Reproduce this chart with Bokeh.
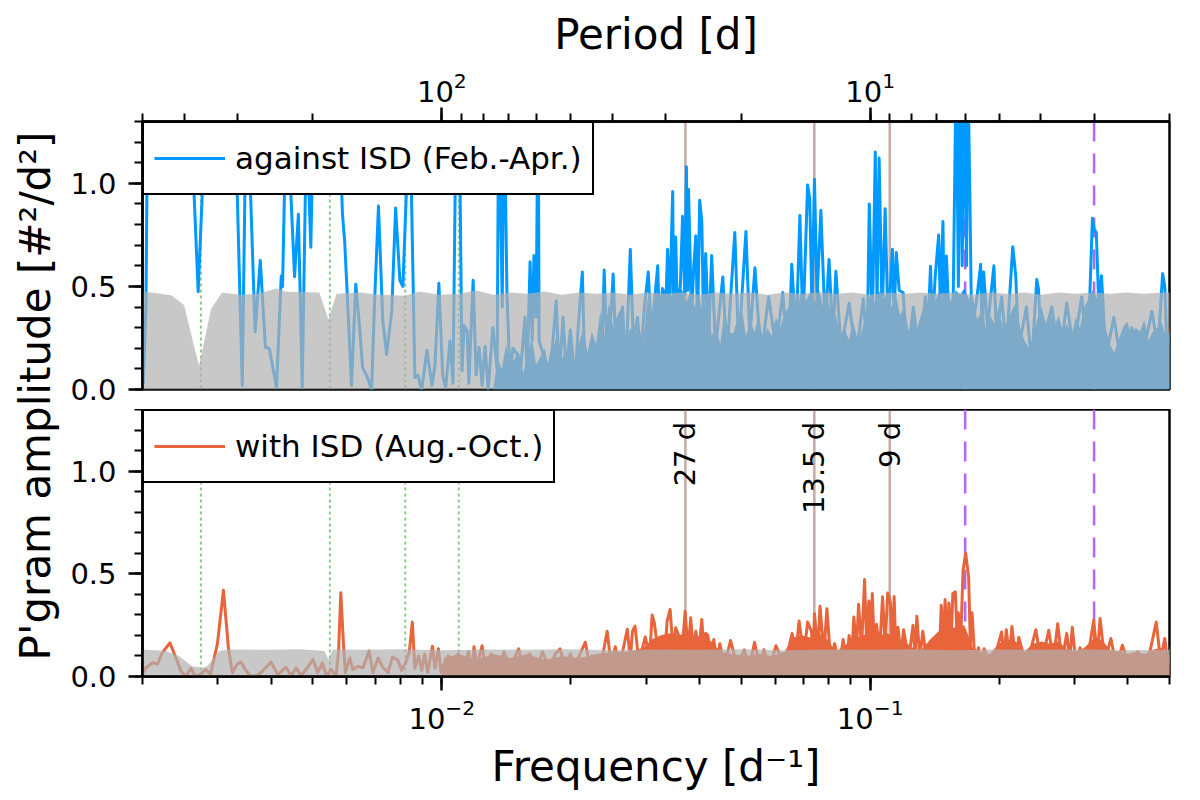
import numpy as np
from bokeh.plotting import figure
from bokeh.layouts import row, column
from bokeh.models import (ColumnDataSource, Range1d, LogScale, LogAxis, LogTicker,
                          LogTickFormatter, SingleIntervalTicker, PrintfTickFormatter,
                          Label, Span)
from bokeh.core.properties import value
from bokeh.embed import file_html
from bokeh.resources import INLINE

FONT = "DejaVu Sans"

# ---- data (frequencies stored as log10 [1/d]) ----
# top panel: against ISD (Feb.-Apr.)
blue_logf = [-2.700, -2.697, -2.691, -2.686, -2.630, -2.590, -2.579, -2.569, -2.559, -2.540,
             -2.500, -2.478, -2.466, -2.457, -2.447, -2.436, -2.424, -2.412, -2.403, -2.386,
             -2.375, -2.372, -2.363, -2.353, -2.344, -2.335, -2.326, -2.316, -2.306, -2.300,
             -2.270, -2.240, -2.234, -2.232, -2.227, -2.222, -2.211, -2.201, -2.192, -2.185,
             -2.176, -2.164, -2.157, -2.148, -2.138, -2.129, -2.117, -2.108, -2.098, -2.091,
             -2.075, -2.063, -2.056, -2.047, -2.035, -2.023, -2.016, -2.007, -1.998, -1.991,
             -1.981, -1.974, -1.966, -1.960, -1.953, -1.948, -1.941, -1.937, -1.927, -1.920,
             -1.913, -1.906, -1.899, -1.892, -1.881, -1.871, -1.867, -1.859, -1.855, -1.848,
             -1.841, -1.834, -1.824, -1.817, -1.806, -1.801, -1.794, -1.789, -1.785, -1.780,
             -1.775, -1.773, -1.763, -1.754, -1.742, -1.733, -1.726, -1.717, -1.710, -1.700,
             -1.689, -1.681, -1.672, -1.667, -1.660, -1.646, -1.635, -1.625, -1.621, -1.614,
             -1.607, -1.600, -1.593, -1.578, -1.571, -1.560, -1.553, -1.543, -1.536, -1.527,
             -1.518, -1.511, -1.506, -1.496, -1.492, -1.485, -1.480, -1.473, -1.468, -1.461,
             -1.459, -1.454, -1.450, -1.443, -1.438, -1.433, -1.429, -1.426, -1.424, -1.417,
             -1.412, -1.407, -1.403, -1.398, -1.393, -1.389, -1.384, -1.377, -1.370, -1.361,
             -1.344, -1.335, -1.316, -1.307, -1.290, -1.281, -1.269, -1.255, -1.237, -1.220,
             -1.204, -1.192, -1.183, -1.173, -1.164, -1.157, -1.146, -1.141, -1.136, -1.130,
             -1.124, -1.115, -1.105, -1.096, -1.087, -1.080, -1.068, -1.049, -1.033, -1.016,
             -1.007, -1.002, -0.995, -0.988, -0.984, -0.979, -0.972, -0.965, -0.958, -0.948,
             -0.944, -0.939, -0.932, -0.923, -0.913, -0.899, -0.885, -0.871, -0.867, -0.859,
             -0.855, -0.848, -0.840, -0.836, -0.830, -0.827, -0.822, -0.815, -0.806, -0.799,
             -0.794, -0.789, -0.785, -0.780, -0.775, -0.772, -0.768, -0.763, -0.752, -0.742,
             -0.738, -0.735, -0.726, -0.711, -0.705, -0.693, -0.682, -0.667, -0.660, -0.653,
             -0.635, -0.623, -0.611, -0.607, -0.600, -0.576, -0.557, -0.541, -0.525, -0.506,
             -0.492, -0.481, -0.477, -0.472, -0.466, -0.460, -0.457, -0.450, -0.431, -0.412,
             -0.389, -0.365, -0.342, -0.328, -0.317, -0.312, -0.307, -0.297]
blue_amp = [0.38, 0.03, 0.40, 1.60, 1.80, 1.50, 0.97, 0.474, 0.97, 1.70,
            1.60, 0.97, 0.02, 1.40, 0.97, 0.28, 0.626, 0.204, 0.20, 0.01,
            0.55, 0.50, 1.40, 0.97, 0.547, 0.85, 0.01, 1.30, 0.69, 1.30,
            1.70, 1.40, 0.97, 0.85, 0.72, 0.51, 0.02, 0.51, 0.30, 0.106,
            0.07, 0.00, 0.43, 0.89, 0.335, 0.17, 0.38, 0.88, 0.53, 0.50,
            1.40, 0.057, 0.07, 0.00, 0.19, 0.02, 0.12, 0.515, 0.07, 0.01,
            0.237, 0.03, 1.50, 1.50, 0.09, 0.31, 0.286, 0.03, 0.53, 0.07,
            0.204, 0.02, 0.21, 0.00, 0.30, 0.10, 1.50, 0.40, 1.50, 0.465,
            0.07, 0.20, 0.17, 0.07, 0.35, 0.07, 0.62, 0.237, 0.65, 0.35,
            1.50, 0.237, 0.17, 0.07, 0.20, 0.43, 0.07, 0.35, 0.09, 0.29,
            0.04, 0.32, 0.57, 0.155, 0.04, 0.20, 0.07, 0.285, 0.58, 0.14,
            0.30, 0.56, 0.14, 0.40, 0.07, 0.68, 0.237, 0.35, 0.14, 0.40,
            0.57, 0.27, 0.37, 0.60, 0.29, 0.49, 0.20, 0.68, 0.40, 0.96,
            0.37, 0.74, 0.35, 0.51, 0.84, 0.46, 1.08, 0.48, 0.97, 0.35,
            0.59, 0.746, 0.30, 0.918, 0.815, 0.30, 0.66, 0.25, 0.65, 0.20,
            0.546, 0.15, 0.762, 0.20, 0.767, 0.25, 0.59, 0.15, 0.45, 0.20,
            0.47, 0.10, 0.607, 0.25, 0.844, 0.30, 0.992, 0.926, 0.40, 1.02,
            0.45, 0.869, 0.30, 0.631, 0.25, 0.574, 0.20, 0.42, 0.15, 0.44,
            0.20, 0.90, 0.30, 1.152, 0.40, 1.123, 0.35, 0.877, 0.30, 0.68,
            0.35, 0.664, 0.48, 0.47, 0.15, 0.40, 0.15, 0.45, 0.20, 0.598,
            0.30, 0.55, 0.749, 0.40, 0.815, 0.35, 0.648, 0.30, 0.45, 1.60,
            0.50, 1.60, 0.60, 1.60, 0.60, 1.60, 1.057, 0.30, 0.42, 0.607,
            0.20, 0.57, 0.30, 0.60, 0.25, 0.45, 0.20, 0.693, 0.55, 0.20,
            0.40, 0.12, 0.533, 0.49, 0.20, 0.40, 0.15, 0.42, 0.20, 0.45,
            0.15, 0.831, 0.779, 0.762, 0.40, 0.552, 0.45, 0.15, 0.35, 0.10,
            0.30, 0.15, 0.38, 0.20, 0.562, 0.50, 0.20, 0.295]

# dense periodogram floor (envelope of the unresolved oscillations)
blue_band_logf = [-1.88, -1.87, -1.86, -1.85, -1.84, -1.82, -1.81, -1.79, -1.78, -1.76,
                  -1.75, -1.73, -1.72, -1.70, -1.69, -1.67, -1.66, -1.65, -1.64, -1.63,
                  -1.62, -1.61, -1.60, -1.59, -1.58, -1.57, -1.56, -1.55, -1.54, -1.53,
                  -1.52, -1.51, -1.50, -1.49, -1.48, -1.47, -1.46, -1.45, -1.44, -1.43,
                  -1.42, -1.41, -1.40, -1.39, -1.38, -1.37, -1.36, -1.35, -1.34, -1.33,
                  -1.32, -1.31, -1.30, -1.29, -1.28, -1.27, -1.26, -1.25, -1.24, -1.23,
                  -1.22, -1.21, -1.20, -1.19, -1.18, -1.17, -1.16, -1.15, -1.14, -1.13,
                  -1.12, -1.11, -1.10, -1.09, -1.08, -1.07, -1.06, -1.05, -1.04, -1.03,
                  -1.02, -1.01, -1.00, -0.99, -0.98, -0.97, -0.96, -0.95, -0.94, -0.93,
                  -0.92, -0.91, -0.90, -0.89, -0.88, -0.87, -0.86, -0.85, -0.84, -0.83,
                  -0.82, -0.81, -0.80, -0.79, -0.78, -0.77, -0.76, -0.75, -0.74, -0.73,
                  -0.72, -0.71, -0.70, -0.69, -0.68, -0.67, -0.66, -0.65, -0.64, -0.63,
                  -0.62, -0.61, -0.60, -0.59, -0.58, -0.57, -0.56, -0.55, -0.54, -0.53,
                  -0.52, -0.51, -0.50, -0.49, -0.48, -0.47, -0.46, -0.45, -0.44, -0.43,
                  -0.42, -0.41, -0.40, -0.39, -0.38, -0.37, -0.36, -0.35, -0.34, -0.33,
                  -0.32, -0.31, -0.297]
blue_band_amp = [0.00, 0.15, 0.10, 0.22, 0.12, 0.18, 0.08, 0.25, 0.12, 0.20,
                 0.10, 0.28, 0.15, 0.22, 0.14, 0.30, 0.18, 0.28, 0.22, 0.38,
                 0.26, 0.42, 0.30, 0.36, 0.40, 0.24, 0.30, 0.26, 0.30, 0.22,
                 0.44, 0.36, 0.47, 0.40, 0.49, 0.42, 0.47, 0.44, 0.49, 0.42,
                 0.47, 0.40, 0.46, 0.36, 0.44, 0.26, 0.30, 0.22, 0.38, 0.28,
                 0.27, 0.34, 0.40, 0.26, 0.33, 0.28, 0.36, 0.24, 0.30, 0.26,
                 0.35, 0.30, 0.37, 0.40, 0.46, 0.40, 0.48, 0.43, 0.47, 0.42,
                 0.49, 0.40, 0.46, 0.34, 0.36, 0.26, 0.30, 0.24, 0.33, 0.25,
                 0.28, 0.36, 0.46, 0.42, 0.48, 0.43, 0.47, 0.40, 0.46, 0.36,
                 0.40, 0.28, 0.34, 0.30, 0.37, 0.40, 0.46, 0.42, 0.47, 0.44,
                 0.46, 0.42, 0.48, 0.46, 0.49, 0.44, 0.45, 0.34, 0.38, 0.30,
                 0.36, 0.32, 0.40, 0.30, 0.33, 0.38, 0.42, 0.30, 0.24, 0.20,
                 0.25, 0.34, 0.40, 0.32, 0.38, 0.30, 0.36, 0.28, 0.32, 0.26,
                 0.35, 0.30, 0.40, 0.44, 0.48, 0.44, 0.46, 0.30, 0.22, 0.18,
                 0.24, 0.30, 0.33, 0.26, 0.30, 0.28, 0.34, 0.24, 0.28, 0.30,
                 0.33, 0.26, 0.28]

# significance level (grey)
top_thr_logf = [-2.700, -2.632, -2.602, -2.567, -2.539, -2.513, -2.473, -2.430, -2.386, -2.363,
                -2.286, -2.265, -2.246, -2.192, -2.145, -2.087, -2.052, -2.005, -1.96, -1.92,
                -1.88, -1.84, -1.80, -1.76, -1.72, -1.68, -1.64, -1.60, -1.56, -1.52,
                -1.48, -1.44, -1.40, -1.36, -1.32, -1.28, -1.24, -1.20, -1.16, -1.12,
                -1.08, -1.04, -1.00, -0.96, -0.92, -0.88, -0.84, -0.80, -0.76, -0.72,
                -0.68, -0.64, -0.60, -0.56, -0.52, -0.48, -0.44, -0.40, -0.36, -0.32,
                -0.297]
top_thr_amp = [0.477, 0.457, 0.41, 0.114, 0.39, 0.47, 0.46, 0.465, 0.49, 0.474,
               0.47, 0.34, 0.465, 0.47, 0.46, 0.455, 0.475, 0.46, 0.465, 0.48,
               0.46, 0.47, 0.465, 0.475, 0.46, 0.47, 0.465, 0.47, 0.46, 0.47,
               0.465, 0.47, 0.46, 0.47, 0.465, 0.47, 0.46, 0.47, 0.465, 0.47,
               0.465, 0.47, 0.46, 0.47, 0.465, 0.47, 0.465, 0.47, 0.46, 0.47,
               0.465, 0.47, 0.46, 0.47, 0.465, 0.47, 0.465, 0.47, 0.465, 0.47,
               0.47]

# bottom panel: with ISD (Aug.-Oct.)
orange_logf = [-2.700, -2.692, -2.676, -2.664, -2.653, -2.635, -2.621, -2.609, -2.598, -2.586,
               -2.575, -2.567, -2.551, -2.540, -2.524, -2.510, -2.498, -2.489, -2.478, -2.469,
               -2.459, -2.446, -2.430, -2.415, -2.399, -2.383, -2.364, -2.352, -2.340, -2.329,
               -2.317, -2.301, -2.290, -2.279, -2.270, -2.258, -2.247, -2.241, -2.236, -2.229,
               -2.225, -2.215, -2.208, -2.196, -2.184, -2.170, -2.161, -2.149, -2.138, -2.126,
               -2.115, -2.103, -2.094, -2.084, -2.076, -2.069, -2.063, -2.054, -2.047, -2.040,
               -2.033, -2.022, -2.016, -2.008, -2.002, -1.995, -1.985, -1.975, -1.962, -1.950,
               -1.938, -1.930, -1.925, -1.918, -1.906, -1.899, -1.885, -1.870, -1.855, -1.840,
               -1.821, -1.810, -1.795, -1.780, -1.765, -1.750, -1.735, -1.724, -1.712, -1.700,
               -1.690, -1.665, -1.655, -1.640, -1.630, -1.614, -1.605, -1.595, -1.585, -1.567,
               -1.560, -1.555, -1.549, -1.540, -1.525, -1.515, -1.509, -1.504, -1.495, -1.487,
               -1.480, -1.474, -1.467, -1.460, -1.454, -1.447, -1.440, -1.432, -1.425, -1.419,
               -1.412, -1.407, -1.400, -1.393, -1.388, -1.384, -1.379, -1.372, -1.365, -1.358,
               -1.351, -1.340, -1.326, -1.310, -1.294, -1.282, -1.270, -1.258, -1.248, -1.235,
               -1.220, -1.200, -1.182, -1.175, -1.166, -1.155, -1.146, -1.137, -1.133, -1.130,
               -1.122, -1.117, -1.108, -1.101, -1.092, -1.083, -1.072, -1.063, -1.055, -1.049,
               -1.043, -1.038, -1.032, -1.027, -1.020, -1.013, -1.008, -1.003, -0.999, -0.995,
               -0.990, -0.985, -0.978, -0.971, -0.965, -0.959, -0.953, -0.948, -0.944, -0.940,
               -0.935, -0.928, -0.922, -0.910, -0.900, -0.895, -0.891, -0.884, -0.877, -0.867,
               -0.857, -0.850, -0.843, -0.838, -0.834, -0.829, -0.825, -0.820, -0.816, -0.811,
               -0.807, -0.801, -0.797, -0.794, -0.789, -0.783, -0.777, -0.770, -0.766, -0.762,
               -0.755, -0.747, -0.740, -0.734, -0.715, -0.693, -0.688, -0.682, -0.675, -0.669,
               -0.660, -0.653, -0.635, -0.613, -0.600, -0.583, -0.572, -0.562, -0.552, -0.541,
               -0.534, -0.528, -0.519, -0.510, -0.495, -0.478, -0.470, -0.463, -0.452, -0.438,
               -0.425, -0.411, -0.395, -0.375, -0.355, -0.332, -0.322, -0.312, -0.305, -0.297]
orange_amp = [0.01, 0.04, 0.067, 0.06, 0.115, 0.164, 0.09, 0.026, 0.00, 0.04,
              0.00, 0.005, 0.034, 0.01, 0.16, 0.42, 0.13, 0.018, 0.06, 0.07,
              0.034, 0.00, 0.005, 0.034, 0.07, 0.01, 0.045, 0.005, 0.042, 0.003,
              0.034, 0.083, 0.018, 0.067, 0.005, 0.034, 0.00, 0.13, 0.408, 0.13,
              0.018, 0.09, 0.034, 0.05, 0.042, 0.124, 0.018, 0.09, 0.045, 0.02,
              0.095, 0.08, 0.03, 0.07, 0.12, 0.265, 0.04, 0.10, 0.03, 0.11,
              0.02, 0.147, 0.04, 0.135, 0.02, 0.06, 0.10, 0.03, 0.11, 0.04,
              0.12, 0.03, 0.145, 0.05, 0.15, 0.04, 0.11, 0.03, 0.12, 0.04,
              0.135, 0.05, 0.11, 0.03, 0.12, 0.04, 0.11, 0.135, 0.04, 0.11,
              0.05, 0.167, 0.05, 0.10, 0.04, 0.22, 0.06, 0.145, 0.05, 0.23,
              0.08, 0.22, 0.245, 0.07, 0.193, 0.09, 0.30, 0.262, 0.12, 0.19,
              0.10, 0.27, 0.327, 0.12, 0.237, 0.20, 0.10, 0.318, 0.12, 0.286,
              0.10, 0.22, 0.12, 0.278, 0.10, 0.21, 0.20, 0.08, 0.18, 0.06,
              0.16, 0.05, 0.175, 0.05, 0.13, 0.04, 0.167, 0.05, 0.13, 0.04,
              0.15, 0.05, 0.21, 0.08, 0.27, 0.10, 0.265, 0.22, 0.10, 0.306,
              0.12, 0.342, 0.11, 0.33, 0.07, 0.16, 0.05, 0.18, 0.07, 0.20,
              0.10, 0.29, 0.12, 0.352, 0.14, 0.472, 0.15, 0.368, 0.15, 0.404,
              0.12, 0.254, 0.12, 0.388, 0.15, 0.407, 0.363, 0.15, 0.39, 0.12,
              0.24, 0.10, 0.228, 0.08, 0.249, 0.10, 0.293, 0.09, 0.22, 0.06,
              0.14, 0.06, 0.19, 0.12, 0.347, 0.15, 0.375, 0.15, 0.358, 0.15,
              0.404, 0.412, 0.18, 0.31, 0.15, 0.518, 0.60, 0.485, 0.15, 0.31,
              0.06, 0.14, 0.04, 0.135, 0.05, 0.217, 0.08, 0.228, 0.09, 0.244,
              0.08, 0.19, 0.05, 0.228, 0.06, 0.225, 0.08, 0.257, 0.07, 0.21,
              0.08, 0.24, 0.05, 0.14, 0.05, 0.274, 0.10, 0.282, 0.07, 0.185,
              0.05, 0.152, 0.05, 0.12, 0.04, 0.265, 0.08, 0.185, 0.06, 0.15]

orange_band_logf = [-2.00, -1.995, -1.96, -1.92, -1.88, -1.84, -1.80, -1.76, -1.72, -1.68,
                    -1.64, -1.60, -1.56, -1.53, -1.51, -1.49, -1.47, -1.45, -1.43, -1.41,
                    -1.39, -1.37, -1.35, -1.32, -1.29, -1.26, -1.23, -1.20, -1.18, -1.16,
                    -1.14, -1.12, -1.10, -1.08, -1.06, -1.04, -1.02, -1.00, -0.98, -0.96,
                    -0.94, -0.92, -0.90, -0.88, -0.86, -0.84, -0.82, -0.80, -0.78, -0.76,
                    -0.74, -0.72, -0.70, -0.68, -0.66, -0.64, -0.62, -0.60, -0.58, -0.56,
                    -0.54, -0.52, -0.50, -0.48, -0.46, -0.44, -0.42, -0.40, -0.38, -0.36,
                    -0.34, -0.32, -0.297]
orange_band_amp = [0.0, 0.09, 0.11, 0.08, 0.11, 0.09, 0.11, 0.08, 0.10, 0.09,
                   0.11, 0.12, 0.12, 0.14, 0.18, 0.20, 0.21, 0.20, 0.21, 0.20,
                   0.19, 0.17, 0.12, 0.11, 0.10, 0.11, 0.10, 0.12, 0.19, 0.20,
                   0.19, 0.21, 0.18, 0.12, 0.15, 0.18, 0.20, 0.21, 0.20, 0.21,
                   0.19, 0.17, 0.14, 0.13, 0.18, 0.22, 0.23, 0.24, 0.25, 0.14,
                   0.12, 0.11, 0.16, 0.18, 0.17, 0.12, 0.16, 0.17, 0.16, 0.17,
                   0.13, 0.12, 0.14, 0.18, 0.18, 0.13, 0.12, 0.11, 0.12, 0.11,
                   0.13, 0.14, 0.10]

bot_thr_logf = [-2.700, -2.644, -2.614, -2.583, -2.560, -2.548, -2.520, -2.496, -2.40, -2.33,
                -2.274, -2.265, -2.255, -2.18, -2.10, -2.00, -1.90, -1.80, -1.70, -1.60,
                -1.50, -1.40, -1.30, -1.20, -1.10, -1.00, -0.90, -0.80, -0.70, -0.60,
                -0.50, -0.40, -0.297]
bot_thr_amp = [0.132, 0.124, 0.10, 0.05, 0.042, 0.05, 0.124, 0.132, 0.13, 0.133,
               0.124, 0.083, 0.132, 0.13, 0.133, 0.128, 0.132, 0.13, 0.133, 0.128,
               0.132, 0.13, 0.133, 0.128, 0.132, 0.13, 0.133, 0.128, 0.132, 0.13,
               0.133, 0.128, 0.13]

# marked periods [d]
year_periods = [365.25, 182.625, 121.75, 91.3125]
rot_periods = [27.0, 13.5, 9.0]
rot_labels = ["27 d", "13.5 d", "9 d"]
alias_periods = [6.0, 3.0]

F_MIN, F_MAX = 0.002, 0.5
Y_MAX = 1.3

BLUE = "#0099ff"
ORANGE = "#e8643a"
GREY = "#b0b0b0"

LAB_W = 66


def style_axes(p):
    for ax in p.axis:
        ax.axis_line_width = 2.5
        ax.axis_line_color = "black"
        ax.major_tick_line_width = 2.5
        ax.minor_tick_line_width = 2
        ax.major_tick_out = 14
        ax.major_tick_in = 0
        ax.minor_tick_out = 8
        ax.minor_tick_in = 0
        ax.major_label_text_font = FONT
        ax.major_label_text_font_size = "29px"
        ax.major_label_text_color = "black"
        ax.axis_label_text_font = FONT
        ax.axis_label_text_font_size = "42px"
        ax.axis_label_text_font_style = "normal"
        ax.axis_label_text_color = "black"


def make_panel(line_logf, line_amp, band_logf, band_amp, thr_logf, thr_amp,
               color, label, top):
    p = figure(x_axis_type="log", x_range=Range1d(F_MIN, F_MAX), y_range=Range1d(0, Y_MAX),
               x_axis_location=None if top else "below",
               frame_width=1027, frame_height=268 if top else 267,
               min_border_left=142 - LAB_W, min_border_right=22,
               min_border_top=121 if top else 0, min_border_bottom=20 if top else 115,
               toolbar_location=None, output_backend="svg")
    p.grid.visible = False
    p.outline_line_color = "black"
    p.outline_line_width = 2.5
    p.outline_line_alpha = 1.0

    # reference periods
    for per in year_periods:
        p.add_layout(Span(location=1.0 / per, dimension="height", line_color="#2ca02c",
                          line_alpha=0.55, line_width=2, line_dash="3 3", level="underlay"))
    for per in rot_periods:
        p.add_layout(Span(location=1.0 / per, dimension="height", line_color="#8c564b",
                          line_alpha=0.5, line_width=2.5, level="underlay"))
    for per in alias_periods:
        p.add_layout(Span(location=1.0 / per, dimension="height", line_color="#b466f5",
                          line_alpha=1.0, line_width=2.5, line_dash="20 12", level="underlay"))

    band = ColumnDataSource(dict(f=10 ** np.array(band_logf), a=np.array(band_amp)))
    p.varea(x="f", y1=0, y2="a", source=band, fill_color=color, fill_alpha=1.0)

    src = ColumnDataSource(dict(f=10 ** np.array(line_logf), a=np.array(line_amp)))
    p.line("f", "a", source=src, line_color=color, line_width=3, line_join="round",
           legend_label=label)

    thr = ColumnDataSource(dict(f=10 ** np.array(thr_logf), a=np.array(thr_amp)))
    p.varea(x="f", y1=0, y2="a", source=thr, fill_color=GREY, fill_alpha=0.7)

    p.yaxis.ticker = SingleIntervalTicker(interval=0.5, num_minor_ticks=5)
    p.yaxis.formatter = PrintfTickFormatter(format="%.1f")
    p.yaxis.major_label_standoff = 12

    if top:
        p.extra_x_ranges = {"period": Range1d(1.0 / F_MIN, 1.0 / F_MAX)}
        p.extra_x_scales = {"period": LogScale()}
        pax = LogAxis(x_range_name="period", ticker=LogTicker(num_minor_ticks=10),
                      formatter=LogTickFormatter(), axis_label="Period [d]",
                      major_label_standoff=6, axis_label_standoff=10)
        p.add_layout(pax, "above")
    else:
        p.xaxis.ticker = LogTicker(num_minor_ticks=10)
        p.xaxis.formatter = LogTickFormatter()
        p.xaxis.axis_label = "Frequency [d⁻¹]"
        p.xaxis.major_label_standoff = 8
        p.xaxis.axis_label_standoff = 10
        p.text(x=[1.0 / per for per in rot_periods], y=1.24, text=rot_labels,
               angle=np.pi / 2, text_align="right", text_baseline="middle",
               text_font=value(FONT), text_font_size="29px", text_color="black")

    style_axes(p)

    lg = p.legend[0]
    lg.location = "top_left"
    lg.margin = 0
    lg.padding = 10
    lg.spacing = 0
    lg.border_line_color = "black"
    lg.border_line_width = 2.5
    lg.border_line_alpha = 1.0
    lg.background_fill_alpha = 1.0
    lg.label_text_font = FONT
    lg.label_text_font_size = "31px"
    lg.label_text_color = "black"
    lg.glyph_width = 71
    lg.glyph_height = 50
    lg.label_height = 50
    lg.label_standoff = 10
    return p


top = make_panel(blue_logf, blue_amp, blue_band_logf, blue_band_amp,
                 top_thr_logf, top_thr_amp, BLUE, "against ISD (Feb.-Apr.)", True)
bot = make_panel(orange_logf, orange_amp, orange_band_logf, orange_band_amp,
                 bot_thr_logf, bot_thr_amp, ORANGE, "with ISD (Aug.-Oct.)", False)

# shared y label on its own narrow canvas
lab = figure(width=LAB_W, height=791, x_range=Range1d(0, LAB_W), y_range=Range1d(0, 1),
             x_axis_location=None, y_axis_location=None, min_border=0,
             toolbar_location=None, output_backend="svg")
lab.grid.visible = False
lab.outline_line_color = None
lab.add_layout(Label(x=35, y=0.5, text="P'gram amplitude [#²/d²]", angle=90,
                     angle_units="deg", text_align="center", text_baseline="middle",
                     text_font=FONT, text_font_size="42px", text_color="black"))

layout = row(lab, column(top, bot))

open("out.html", "w").write(file_html(layout, INLINE))
